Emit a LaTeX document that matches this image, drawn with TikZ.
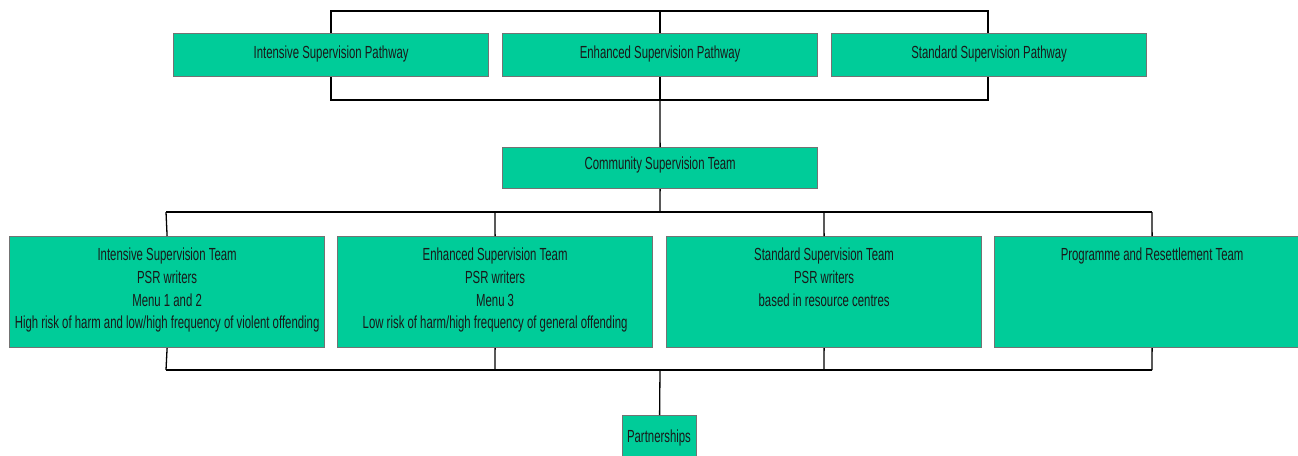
\documentclass[tikz,border=0pt]{standalone}
\usepackage{fontspec}
\setmainfont{Liberation Sans}[FakeStretch=0.65]
\begin{document}
\begin{tikzpicture}[x=1pt,y=-1pt,
  box/.style={draw=gray!90!black,line width=1.2pt,fill=boxgreen,inner sep=0pt,anchor=north west},
  wire/.style={draw=black,line width=1.3pt},
  txt/.style={font=\fontsize{17.5}{22.7}\selectfont,text=black!90,align=center,inner sep=0pt}]
\definecolor{boxgreen}{RGB}{0,204,153}
\useasboundingbox (0,0) rectangle (1298,455);
\clip (0,0) rectangle (1298,455);

% top connectors (behind the pathway boxes)
\coordinate (tl) at (331,11);
\coordinate (tm) at (660,11);
\coordinate (tr) at (988,11);
\coordinate (bl) at (331,100);
\coordinate (bm) at (660,100);
\coordinate (br) at (988,100);
\draw[wire] (bl) -- (tl) -- (tr) -- (br) -- cycle;
\draw[wire] (tm) -- (bm);

% pathway boxes
\node[box,minimum width=315,minimum height=43] (p1) at (173,33) {};
\node[box,minimum width=315,minimum height=43] (p2) at (502,33) {};
\node[box,minimum width=315,minimum height=43] (p3) at (831,33) {};
\node[txt] at ([yshift=1.5]p1.center) {Intensive Supervision Pathway};
\node[txt] at ([yshift=1.5]p2.center) {Enhanced Supervision Pathway};
\node[txt] at ([yshift=1.5]p3.center) {Standard Supervision Pathway};

% community team
\node[box,minimum width=315,minimum height=41] (cst) at (502,147) {};
\node[txt] at ([yshift=3]cst.center) {Community Supervision Team};
\draw[wire] (bm) -- (cst.north);

% team level bus
\coordinate (h1) at (166,212);
\coordinate (h2) at (495,212);
\coordinate (h3) at (824,212);
\coordinate (h4) at (1152,212);
\coordinate (g1) at (166,370);
\coordinate (g2) at (495,370);
\coordinate (g3) at (824,370);
\coordinate (g4) at (1152,370);
\coordinate (gm) at (660,370);
\coordinate (hm) at (660,212);
\draw[wire] (cst.south) -- (hm);
\draw[wire] (h1) -- (h4);
\draw[wire] (g1) -- (g4);

% team boxes
\node[box,minimum width=315,minimum height=111] (t1) at (9,236) {};
\node[box,minimum width=315,minimum height=111] (t2) at (337,236) {};
\node[box,minimum width=315,minimum height=111] (t3) at (666,236) {};
\node[box,minimum width=315,minimum height=111] (t4) at (994,236) {};
\foreach \i in {1,2,3,4}{
  \draw[wire] (h\i) -- (t\i.north);
  \draw[wire] (t\i.south) -- (g\i);
}
\node[txt,anchor=north] at ([yshift=-12]t1.north) {Intensive Supervision Team\\PSR writers\\Menu 1 and 2\\High risk of harm and low/high frequency of violent offending};
\node[txt,anchor=north] at ([yshift=-12]t2.north) {Enhanced Supervision Team\\PSR writers\\Menu 3\\Low risk of harm/high frequency of general offending};
\node[txt,anchor=north] at ([yshift=-12]t3.north) {Standard Supervision Team\\PSR writers\\based in resource centres};
\node[txt,anchor=north] at ([yshift=-12]t4.north) {Programme and Resettlement Team};

% partnerships
\node[box,minimum width=74,minimum height=45] (pt) at (622,415) {};
\node[txt] at ([yshift=-1]622+37,437) {Partnerships};
\draw[wire] (gm) -- (pt.north);
\end{tikzpicture}
\end{document}
